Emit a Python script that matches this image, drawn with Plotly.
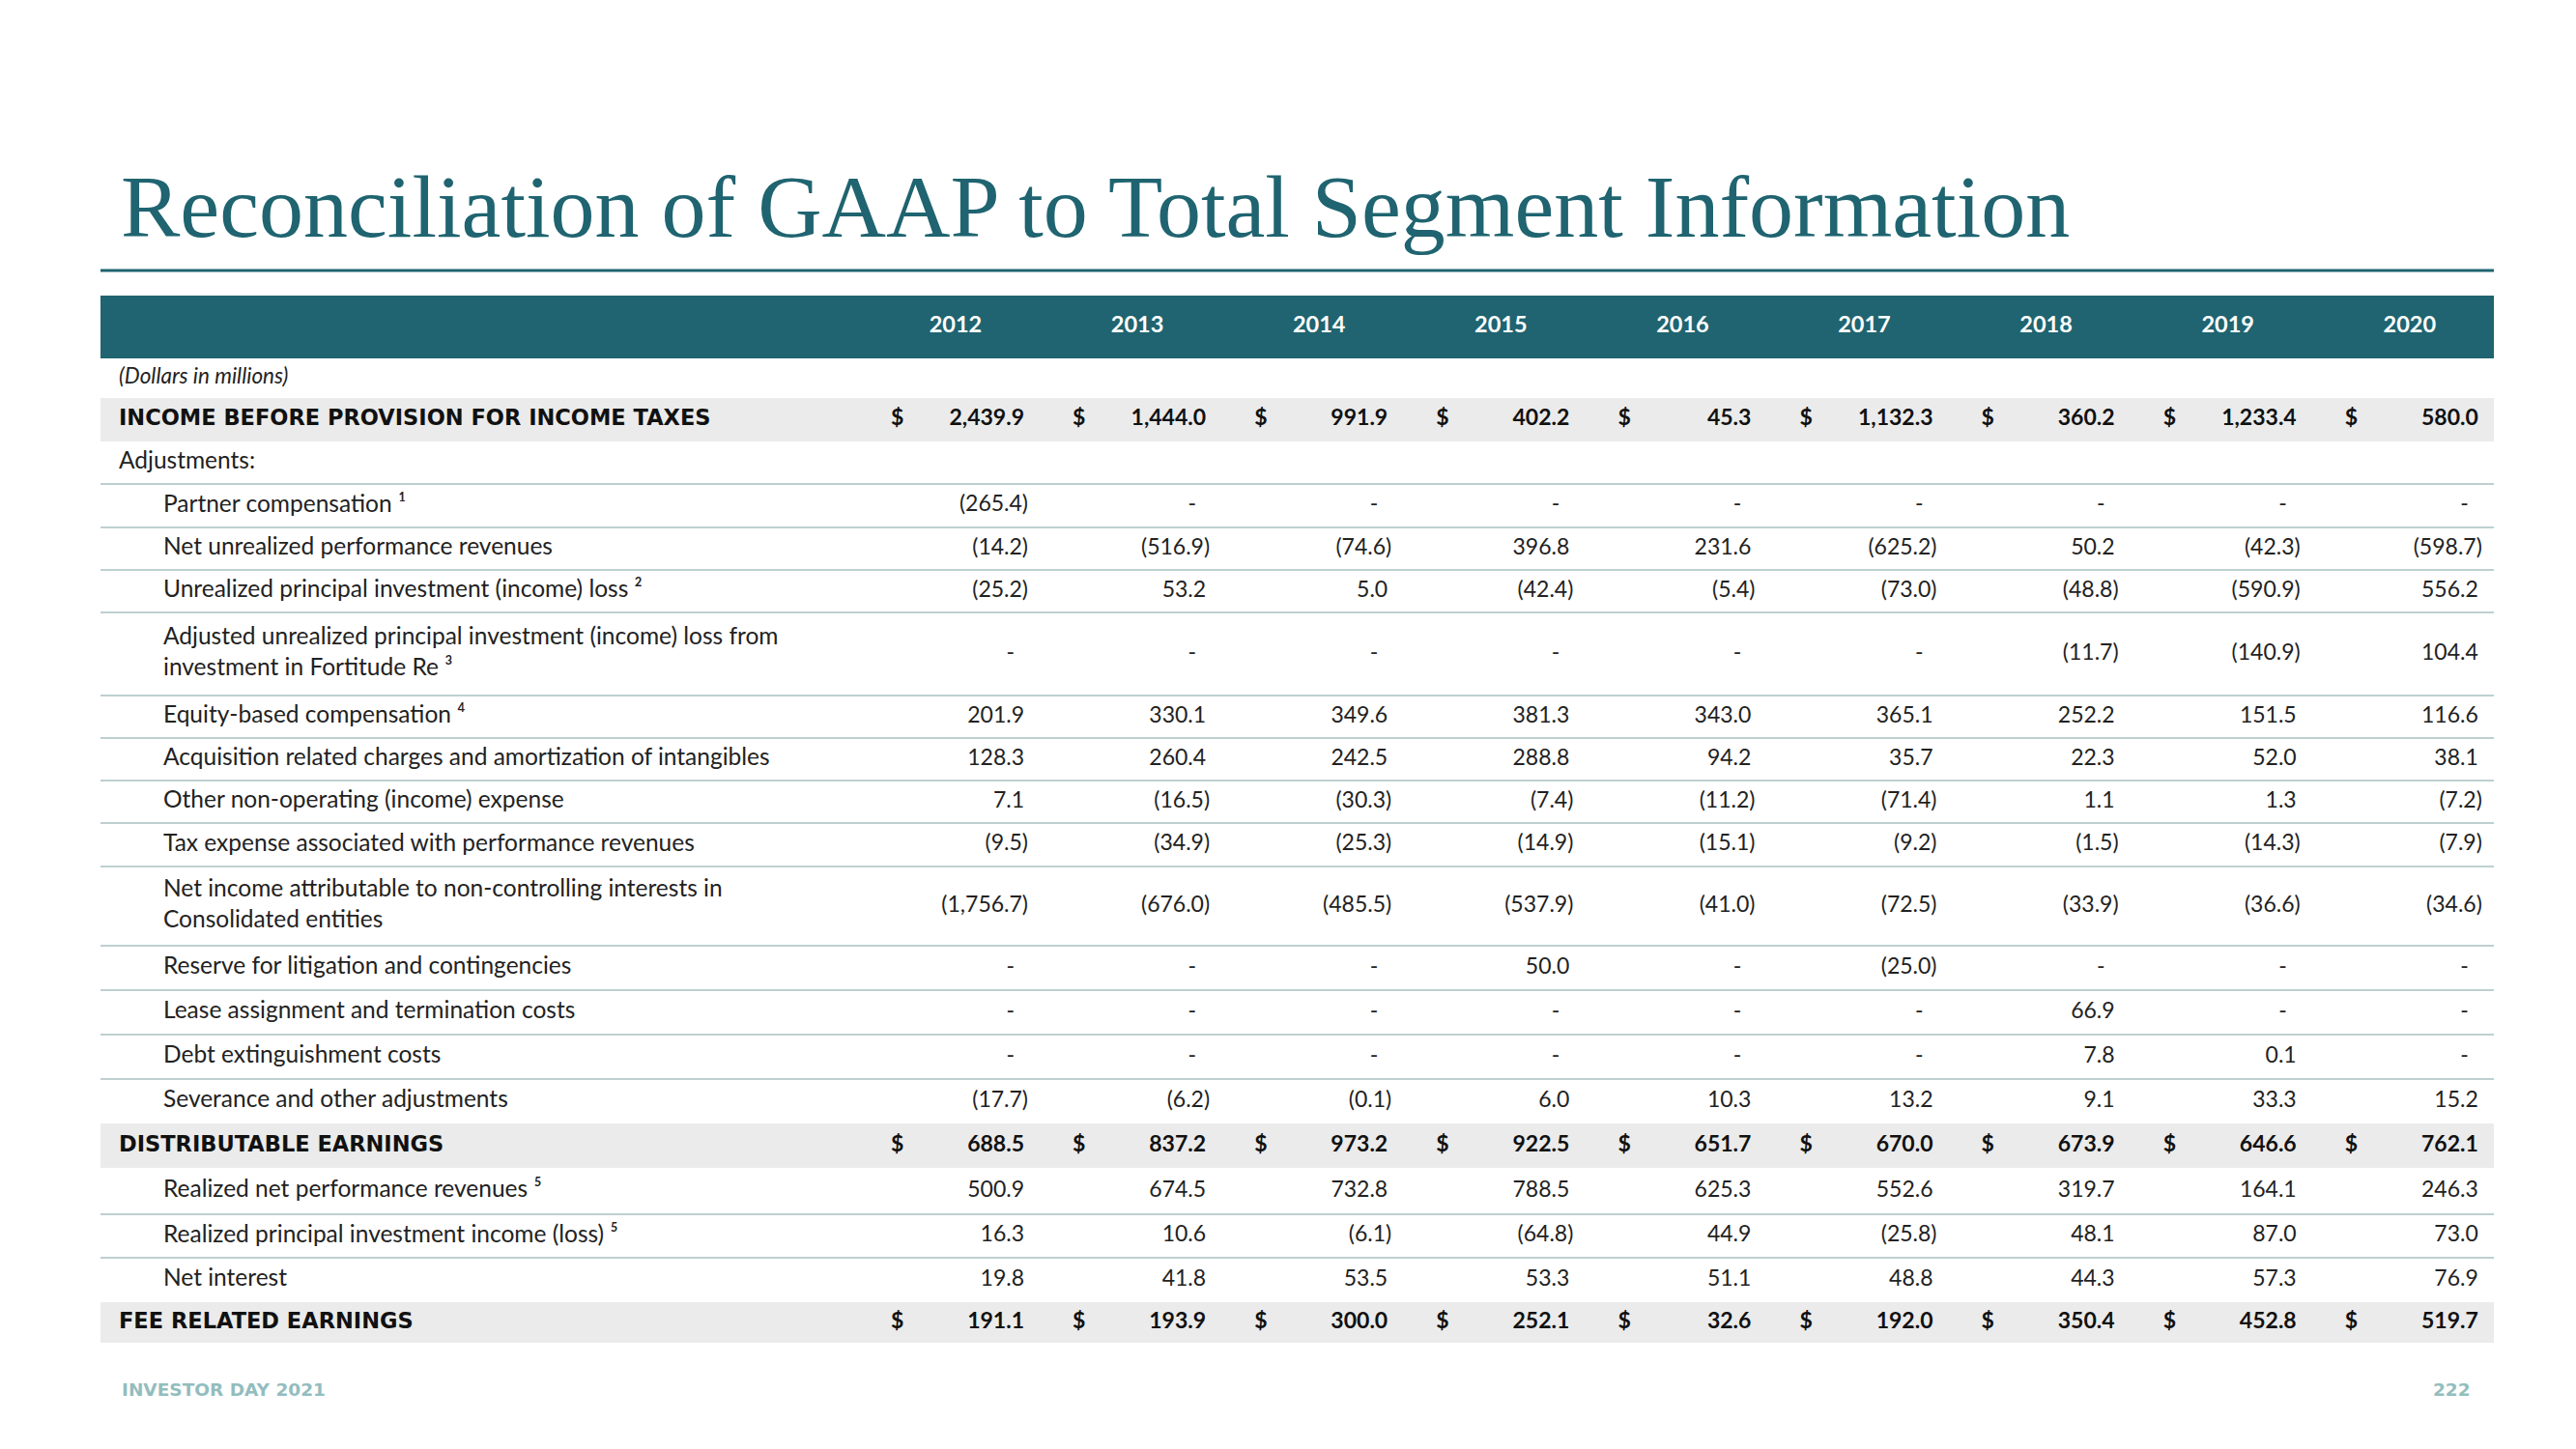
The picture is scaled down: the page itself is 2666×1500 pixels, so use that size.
import plotly.graph_objects as go

# ---------------- DATA ----------------
years = ["2012", "2013", "2014", "2015", "2016", "2017", "2018", "2019", "2020"]

income_before_taxes = [2439.9, 1444.0, 991.9, 402.2, 45.3, 1132.3, 360.2, 1233.4, 580.0]
partner_compensation = [-265.4, None, None, None, None, None, None, None, None]
net_unrealized_perf_rev = [-14.2, -516.9, -74.6, 396.8, 231.6, -625.2, 50.2, -42.3, -598.7]
unrealized_principal_inv = [-25.2, 53.2, 5.0, -42.4, -5.4, -73.0, -48.8, -590.9, 556.2]
adj_unrealized_fortitude = [None, None, None, None, None, None, -11.7, -140.9, 104.4]
equity_based_comp = [201.9, 330.1, 349.6, 381.3, 343.0, 365.1, 252.2, 151.5, 116.6]
acquisition_charges = [128.3, 260.4, 242.5, 288.8, 94.2, 35.7, 22.3, 52.0, 38.1]
other_non_operating = [7.1, -16.5, -30.3, -7.4, -11.2, -71.4, 1.1, 1.3, -7.2]
tax_expense_perf_rev = [-9.5, -34.9, -25.3, -14.9, -15.1, -9.2, -1.5, -14.3, -7.9]
net_income_nci = [-1756.7, -676.0, -485.5, -537.9, -41.0, -72.5, -33.9, -36.6, -34.6]
reserve_litigation = [None, None, None, 50.0, None, -25.0, None, None, None]
lease_costs = [None, None, None, None, None, None, 66.9, None, None]
debt_extinguishment = [None, None, None, None, None, None, 7.8, 0.1, None]
severance_other = [-17.7, -6.2, -0.1, 6.0, 10.3, 13.2, 9.1, 33.3, 15.2]
distributable_earnings = [688.5, 837.2, 973.2, 922.5, 651.7, 670.0, 673.9, 646.6, 762.1]
realized_net_perf_rev = [500.9, 674.5, 732.8, 788.5, 625.3, 552.6, 319.7, 164.1, 246.3]
realized_principal_inv = [16.3, 10.6, -6.1, -64.8, 44.9, -25.8, 48.1, 87.0, 73.0]
net_interest = [19.8, 41.8, 53.5, 53.3, 51.1, 48.8, 44.3, 57.3, 76.9]
fee_related_earnings = [191.1, 193.9, 300.0, 252.1, 32.6, 192.0, 350.4, 452.8, 519.7]

# (label, values, kind)
rows = [
    ("(Dollars in millions)", None, "note"),
    ("INCOME BEFORE PROVISION FOR INCOME TAXES", income_before_taxes, "total"),
    ("Adjustments:", None, "head"),
    ("Partner compensation \u00b9", partner_compensation, "item"),
    ("Net unrealized performance revenues", net_unrealized_perf_rev, "item"),
    ("Unrealized principal investment (income) loss \u00b2", unrealized_principal_inv, "item"),
    ("Adjusted unrealized principal investment (income) loss from<br>investment in Fortitude Re \u00b3",
     adj_unrealized_fortitude, "item"),
    ("Equity-based compensation \u2074", equity_based_comp, "item"),
    ("Acquisition related charges and amortization of intangibles", acquisition_charges, "item"),
    ("Other non-operating (income) expense", other_non_operating, "item"),
    ("Tax expense associated with performance revenues", tax_expense_perf_rev, "item"),
    ("Net income attributable to non-controlling interests in<br>Consolidated entities", net_income_nci, "item"),
    ("Reserve for litigation and contingencies", reserve_litigation, "item"),
    ("Lease assignment and termination costs", lease_costs, "item"),
    ("Debt extinguishment costs", debt_extinguishment, "item"),
    ("Severance and other adjustments", severance_other, "item"),
    ("DISTRIBUTABLE EARNINGS", distributable_earnings, "total"),
    ("Realized net performance revenues \u2075", realized_net_perf_rev, "item"),
    ("Realized principal investment income (loss) \u2075", realized_principal_inv, "item"),
    ("Net interest", net_interest, "item"),
    ("FEE RELATED EARNINGS", fee_related_earnings, "total"),
]

title_text = "Reconciliation of GAAP to Total Segment Information"
footer_left = "INVESTOR DAY 2021"
footer_right = "222"

# ---------------- STYLE / LAYOUT ----------------
W, H = 2666, 1500
PAGE_MARGIN = 8  # default body margin of the html page
TEAL = "#1f6470"
GRAY_BAND = "#ebebeb"
RULE = "#a9c0c1"
TEXT = "#222222"
FOOT = "#93bdbe"
BODY_FONT = "Lato"
CAPS_FONT = "DejaVu Sans"
TITLE_FONT = "Liberation Serif"

table_left, table_right = 104, 2581
header_top, header_h = 306, 65
row_heights = [41, 45, 44, 45, 44, 44, 86, 44, 44, 44, 45, 82, 46, 46, 46, 46, 46, 48, 45, 46, 42]
col_right0, col_step = 1060, 188.1
dollar_offset = 138
paren_hang = 4
dash_offset = 10
label_x_main, label_x_indent = 123, 169
LABEL_SIZE = 24.5
NUM_SIZE = 23


def fmt(v):
    if v is None:
        return "-"
    s = f"{abs(v):,.1f}"
    return f"({s})" if v < 0 else s


col_right = [col_right0 + i * col_step for i in range(len(years))]

# row boundaries
tops = []
y = header_top + header_h
for h in row_heights:
    tops.append(y)
    y += h
centers = [t + h / 2 for t, h in zip(tops, row_heights)]

shapes = []
# title rule
shapes.append(dict(type="line", xref="x", yref="y", x0=table_left, x1=table_right, y0=280, y1=280,
                   line=dict(color=TEAL, width=3)))
# header band
shapes.append(dict(type="rect", xref="x", yref="y", x0=table_left, x1=table_right,
                   y0=header_top, y1=header_top + header_h, fillcolor=TEAL, line=dict(width=0), layer="below"))
for i, (label, vals, kind) in enumerate(rows):
    t, h = tops[i], row_heights[i]
    if kind == "total":
        shapes.append(dict(type="rect", xref="x", yref="y", x0=table_left, x1=table_right,
                           y0=t, y1=t + h, fillcolor=GRAY_BAND, line=dict(width=0), layer="below"))
    elif kind in ("item", "head"):
        nxt = rows[i + 1][2] if i + 1 < len(rows) else "total"
        if nxt != "total":
            shapes.append(dict(type="line", xref="x", yref="y", x0=table_left, x1=table_right,
                               y0=t + h, y1=t + h, line=dict(color=RULE, width=1.6), layer="below"))

fig = go.Figure()

# header years
fig.add_trace(go.Scatter(
    x=[r - 71 for r in col_right], y=[header_top + header_h / 2] * len(years), text=years,
    mode="text", textposition="middle center",
    textfont=dict(family=BODY_FONT, size=23.5, color="white", weight="bold"), hoverinfo="skip"))

# labels
groups = {
    "note": dict(x=label_x_main, font=dict(family=BODY_FONT, size=22.5, color=TEXT, style="italic")),
    "total": dict(x=label_x_main, font=dict(family=CAPS_FONT, size=22.5, color="#111111", weight="bold")),
    "head": dict(x=label_x_main, font=dict(family=BODY_FONT, size=LABEL_SIZE, color=TEXT)),
    "item": dict(x=label_x_indent, font=dict(family=BODY_FONT, size=LABEL_SIZE, color=TEXT)),
}
for kind, g in groups.items():
    idx = [i for i, r in enumerate(rows) if r[2] == kind]
    fig.add_trace(go.Scatter(
        x=[g["x"]] * len(idx), y=[centers[i] for i in idx], text=[rows[i][0] for i in idx],
        mode="text", textposition="middle right", textfont=g["font"], hoverinfo="skip"))

# values
for bold in (False, True):
    xs, ys, ts = [], [], []
    for i, (label, vals, kind) in enumerate(rows):
        if vals is None or (kind == "total") != bold:
            continue
        for j, v in enumerate(vals):
            if v is None:
                xs.append(col_right[j] - dash_offset)
            elif v < 0:
                xs.append(col_right[j] + paren_hang)
            else:
                xs.append(col_right[j])
            ys.append(centers[i])
            ts.append(fmt(v))
    fig.add_trace(go.Scatter(
        x=xs, y=ys, text=ts, mode="text", textposition="middle left",
        textfont=dict(family=BODY_FONT, size=NUM_SIZE, color="#111111" if bold else TEXT,
                      weight="bold" if bold else "normal"),
        hoverinfo="skip"))

# dollar signs on total rows
xs, ys = [], []
for i, (label, vals, kind) in enumerate(rows):
    if kind == "total":
        for j in range(len(years)):
            xs.append(col_right[j] - dollar_offset)
            ys.append(centers[i])
fig.add_trace(go.Scatter(
    x=xs, y=ys, text=["$"] * len(xs), mode="text", textposition="middle right",
    textfont=dict(family=BODY_FONT, size=NUM_SIZE, color="#111111", weight="bold"), hoverinfo="skip"))

annotations = [
    dict(text=title_text, xref="x", yref="y", x=123, y=214, xanchor="left", yanchor="middle",
         showarrow=False, font=dict(family=TITLE_FONT, size=92, color=TEAL)),
    dict(text=footer_left, xref="x", yref="y", x=124, y=1438, xanchor="left", yanchor="middle",
         showarrow=False, font=dict(family=CAPS_FONT, size=18.5, color=FOOT, weight="bold")),
    dict(text=footer_right, xref="x", yref="y", x=2559, y=1438, xanchor="right", yanchor="middle",
         showarrow=False, font=dict(family=CAPS_FONT, size=18.5, color=FOOT, weight="bold")),
]

# compensate the page margin so that axis units equal window pixels
fig_w, fig_h = W - 2 * PAGE_MARGIN, H - 2 * PAGE_MARGIN
fig.update_layout(
    width=fig_w, height=fig_h, margin=dict(l=0, r=0, t=0, b=0),
    paper_bgcolor="white", plot_bgcolor="white", showlegend=False,
    xaxis=dict(range=[PAGE_MARGIN, PAGE_MARGIN + fig_w], visible=False, fixedrange=True),
    yaxis=dict(range=[PAGE_MARGIN + fig_h, PAGE_MARGIN], visible=False, fixedrange=True),
    shapes=shapes, annotations=annotations,
)

fig.write_html("out.html")
